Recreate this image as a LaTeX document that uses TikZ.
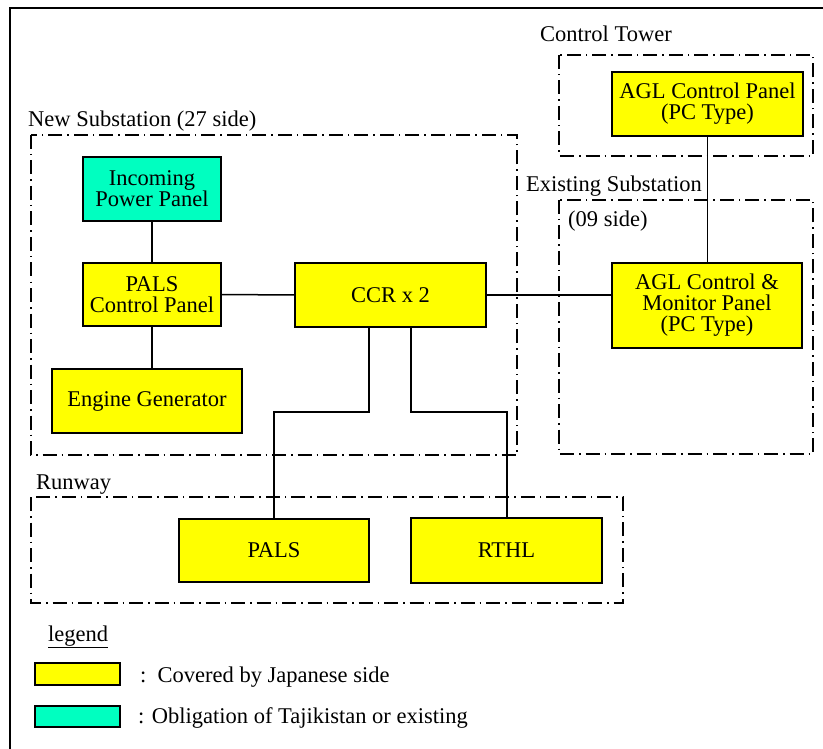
\documentclass[tikz,border=0pt]{standalone}
\usepackage{fontspec}
\setmainfont{Liberation Serif}
\definecolor{jyellow}{RGB}{255,255,0}
\definecolor{jteal}{RGB}{0,255,192}
\begin{document}
\begin{tikzpicture}[x=1pt,y=-1pt,
  every node/.style={font=\fontsize{22.5}{21}\selectfont},
  unit/.style={draw=black,line width=1.8pt,fill=jyellow,inner sep=0,align=center},
  tunit/.style={unit,fill=jteal},
  area/.style={draw=black,line width=1.8pt,dash pattern=on 14pt off 5pt on 1.5pt off 5pt},
  lbl/.style={anchor=base west,inner sep=0},
  wire/.style={draw=black,line width=1.5pt}]
\useasboundingbox (0,0) rectangle (823,749);
% outer frame
\draw[line width=2.5pt] (10,749) -- (10,8) -- (823,8);
% areas
\draw[area] (31,135) rectangle (517,455);
\draw[area] (559,55) rectangle (813,156);
\draw[area] (559,200) rectangle (813,454);
\draw[area] (31,497) rectangle (623,603);
% area labels
\node[lbl] (lNew) at (28,127) {New Substation (27 side)};
\node[lbl] (lTower) at (540,42) {Control Tower};
\node[lbl] (lExist) at (526,192) {Existing Substation};
\node[lbl] (l09) at (568,226) {(09 side)};
\node[lbl] (lRun) at (36,489) {Runway};
% units
\node[tunit,minimum width=138pt,minimum height=64pt] (inc) at (152,189) {Incoming\\Power Panel};
\node[unit,minimum width=138pt,minimum height=63pt] (pcp) at (152,294.5) {PALS\\Control Panel};
\node[unit,minimum width=190pt,minimum height=64pt] (eng) at (147,401) {Engine Generator};
\node[unit,minimum width=191pt,minimum height=64pt] (ccr) at (390.5,295) {CCR x 2};
\node[unit,minimum width=190pt,minimum height=85pt] (aglm) at (707,305.5) {AGL Control \&\\Monitor Panel\\(PC Type)};
\node[unit,minimum width=191pt,minimum height=64pt] (aglc) at (707.5,104) {AGL Control Panel\\(PC Type)};
\node[unit,minimum width=190pt,minimum height=63pt] (pals) at (274,550.5) {PALS};
\node[unit,minimum width=191pt,minimum height=65pt] (rthl) at (506.5,550.5) {RTHL};
% connectors
\coordinate (c1) at (369,327);
\coordinate (c2) at (411,327);
\coordinate (p1) at (274,412);
\coordinate (p2) at (507,412);
\draw[wire] (inc.south) -- (pcp.north);
\draw[wire] (pcp.south) -- (eng.north -| pcp.south);
\draw[wire] (pcp.east) -- (ccr.west);
\draw[wire] (ccr.east) -- (ccr.east -| aglm.west);
\draw[wire] (aglc.south) -- (aglm.north -| aglc.south);
\draw[wire] (c1) |- (p1) -- (pals.north -| p1);
\draw[wire] (c2) |- (p2) -- (rthl.north -| p2);
% legend
\node[lbl] (leg) at (48,641) {\underline{legend}};
\node[unit,minimum width=85pt,minimum height=22pt] (ly) at (77.5,674) {};
\node[tunit,minimum width=85pt,minimum height=21pt] (lt) at (77.5,716.5) {};
\node[lbl] (lyt) at (140,682) {:\ \ Covered by Japanese side};
\node[lbl] (ltt) at (138,723) {: Obligation of Tajikistan or existing};
\end{tikzpicture}
\end{document}
